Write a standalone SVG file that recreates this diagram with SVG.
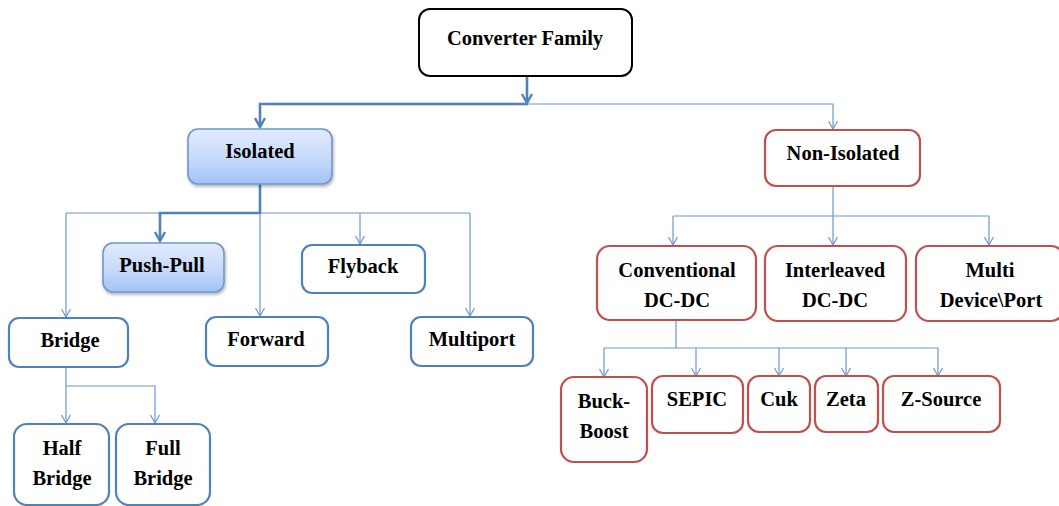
<svg xmlns="http://www.w3.org/2000/svg" width="1059" height="506" viewBox="0 0 1059 506">
  <defs>
    <linearGradient id="blueFill" x1="0" y1="0" x2="0" y2="1">
      <stop offset="0" stop-color="#e2ebfc"/>
      <stop offset="0.5" stop-color="#c9dbfa"/>
      <stop offset="1" stop-color="#a3c2f6"/>
    </linearGradient>
    <filter id="shadow" x="-10%" y="-10%" width="125%" height="135%">
      <feDropShadow dx="1" dy="2" stdDeviation="1.5" flood-color="#000" flood-opacity="0.3"/>
    </filter>
    <marker id="arrowThin" markerUnits="userSpaceOnUse" markerWidth="14" markerHeight="14" viewBox="-10 -7 14 14" refX="0" refY="0" orient="auto">
      <path d="M-8,-4.5 L0,0 L-8,4.5" fill="none" stroke="#6b98d2" stroke-width="1.2"/>
    </marker>
    <marker id="arrowThick" markerUnits="userSpaceOnUse" markerWidth="16" markerHeight="16" viewBox="-12 -8 16 16" refX="0" refY="0" orient="auto">
      <path d="M-9,-5 L0,0 L-9,5" fill="none" stroke="#4f81bd" stroke-width="2.4"/>
    </marker>
  </defs>
  <style>
    .lbl { font-family: "Liberation Serif", "Times New Roman", serif; font-weight: bold; font-size: 20.5px; fill: #000; text-anchor: middle; }
    .box-black { fill: #fff; stroke: #000; stroke-width: 2; }
    .box-blue { fill: #fff; stroke: #4f81bd; stroke-width: 2.2; }
    .box-grad { fill: url(#blueFill); stroke: #6f96cc; stroke-width: 1.6; filter: url(#shadow); }
    .box-red { fill: #fff; stroke: #c0504d; stroke-width: 2.2; }
    .thin { fill: none; stroke: #6b98d2; stroke-width: 1.2; }
    .thick { fill: none; stroke: #4f81bd; stroke-width: 2.6; }
  </style>

  <rect width="1059" height="506" fill="#fff"/>

  <!-- connectors -->
  <g id="connectors">
    <!-- root to second level -->
    <path class="thin" d="M527,104 H833 V129" marker-end="url(#arrowThin)"/>
    <path class="thick" d="M527,76 V103" marker-end="url(#arrowThick)"/>
    <path class="thick" d="M528,104 H260 V127" marker-end="url(#arrowThick)"/>

    <!-- isolated branch -->
    <path class="thin" d="M66,213 H470"/>
    <path class="thin" d="M66,213 V317" marker-end="url(#arrowThin)"/>
    <path class="thin" d="M260,213 V316" marker-end="url(#arrowThin)"/>
    <path class="thin" d="M360,213 V244" marker-end="url(#arrowThin)"/>
    <path class="thin" d="M470,213 V316" marker-end="url(#arrowThin)"/>
    <path class="thick" d="M260,184 V213 H160 V241" marker-end="url(#arrowThick)"/>

    <!-- bridge branch -->
    <path class="thin" d="M66,367 V386 H155 V423" marker-end="url(#arrowThin)"/>
    <path class="thin" d="M66,386 V423" marker-end="url(#arrowThin)"/>

    <!-- non-isolated branch -->
    <path class="thin" d="M833,186 V245" marker-end="url(#arrowThin)"/>
    <path class="thin" d="M673,216 H989 V245" marker-end="url(#arrowThin)"/>
    <path class="thin" d="M673,216 V245" marker-end="url(#arrowThin)"/>

    <!-- conventional branch -->
    <path class="thin" d="M676,320 V348"/>
    <path class="thin" d="M604,348 H938 V376" marker-end="url(#arrowThin)"/>
    <path class="thin" d="M604,348 V377" marker-end="url(#arrowThin)"/>
    <path class="thin" d="M696,348 V376" marker-end="url(#arrowThin)"/>
    <path class="thin" d="M779,348 V376" marker-end="url(#arrowThin)"/>
    <path class="thin" d="M846,348 V376" marker-end="url(#arrowThin)"/>
  </g>

  <!-- root -->
  <g id="converter-family">
    <rect class="box-black" x="419" y="9" width="213" height="67" rx="11"/>
    <text class="lbl" x="525" y="45">Converter Family</text>
  </g>

  <!-- isolated side -->
  <g id="isolated">
    <rect class="box-grad" x="188" y="129" width="144" height="55" rx="10"/>
    <text class="lbl" x="260" y="158">Isolated</text>
  </g>
  <g id="push-pull">
    <rect class="box-grad" x="103" y="243" width="121" height="49" rx="10"/>
    <text class="lbl" x="162" y="272">Push-Pull</text>
  </g>
  <g id="flyback">
    <rect class="box-blue" x="302" y="245" width="123" height="48" rx="10"/>
    <text class="lbl" x="363" y="273">Flyback</text>
  </g>
  <g id="bridge">
    <rect class="box-blue" x="9" y="318" width="119" height="49" rx="10"/>
    <text class="lbl" x="70" y="347">Bridge</text>
  </g>
  <g id="forward">
    <rect class="box-blue" x="206" y="317" width="122" height="49" rx="10"/>
    <text class="lbl" x="266" y="346">Forward</text>
  </g>
  <g id="multiport">
    <rect class="box-blue" x="411" y="317" width="122" height="49" rx="10"/>
    <text class="lbl" x="472" y="346">Multiport</text>
  </g>
  <g id="half-bridge">
    <rect class="box-blue" x="14" y="424" width="95" height="81" rx="13"/>
    <text class="lbl" x="62" y="455">Half</text>
    <text class="lbl" x="62" y="485">Bridge</text>
  </g>
  <g id="full-bridge">
    <rect class="box-blue" x="116" y="424" width="94" height="81" rx="13"/>
    <text class="lbl" x="163" y="455">Full</text>
    <text class="lbl" x="163" y="485">Bridge</text>
  </g>

  <!-- non-isolated side -->
  <g id="non-isolated">
    <rect class="box-red" x="765" y="130" width="155" height="56" rx="11"/>
    <text class="lbl" x="843" y="160">Non-Isolated</text>
  </g>
  <g id="conventional">
    <rect class="box-red" x="597" y="246" width="159" height="74" rx="13"/>
    <text class="lbl" x="677" y="277">Conventional</text>
    <text class="lbl" x="677" y="307">DC-DC</text>
  </g>
  <g id="interleaved">
    <rect class="box-red" x="765" y="246" width="141" height="75" rx="13"/>
    <text class="lbl" x="835" y="277">Interleaved</text>
    <text class="lbl" x="835" y="307">DC-DC</text>
  </g>
  <g id="multi-device-port">
    <rect class="box-red" x="916" y="246" width="148" height="75" rx="13"/>
    <text class="lbl" x="990" y="277">Multi</text>
    <text class="lbl" x="991" y="307">Device\Port</text>
  </g>
  <g id="buck-boost">
    <rect class="box-red" x="561" y="377" width="86" height="85" rx="13"/>
    <text class="lbl" x="604" y="408">Buck-</text>
    <text class="lbl" x="604" y="438">Boost</text>
  </g>
  <g id="sepic">
    <rect class="box-red" x="652" y="376" width="91" height="57" rx="11"/>
    <text class="lbl" x="697" y="406">SEPIC</text>
  </g>
  <g id="cuk">
    <rect class="box-red" x="748" y="376" width="62" height="56" rx="11"/>
    <text class="lbl" x="779" y="406">Cuk</text>
  </g>
  <g id="zeta">
    <rect class="box-red" x="815" y="376" width="63" height="56" rx="11"/>
    <text class="lbl" x="846" y="406">Zeta</text>
  </g>
  <g id="z-source">
    <rect class="box-red" x="883" y="376" width="117" height="56" rx="11"/>
    <text class="lbl" x="941" y="406">Z-Source</text>
  </g>
</svg>
